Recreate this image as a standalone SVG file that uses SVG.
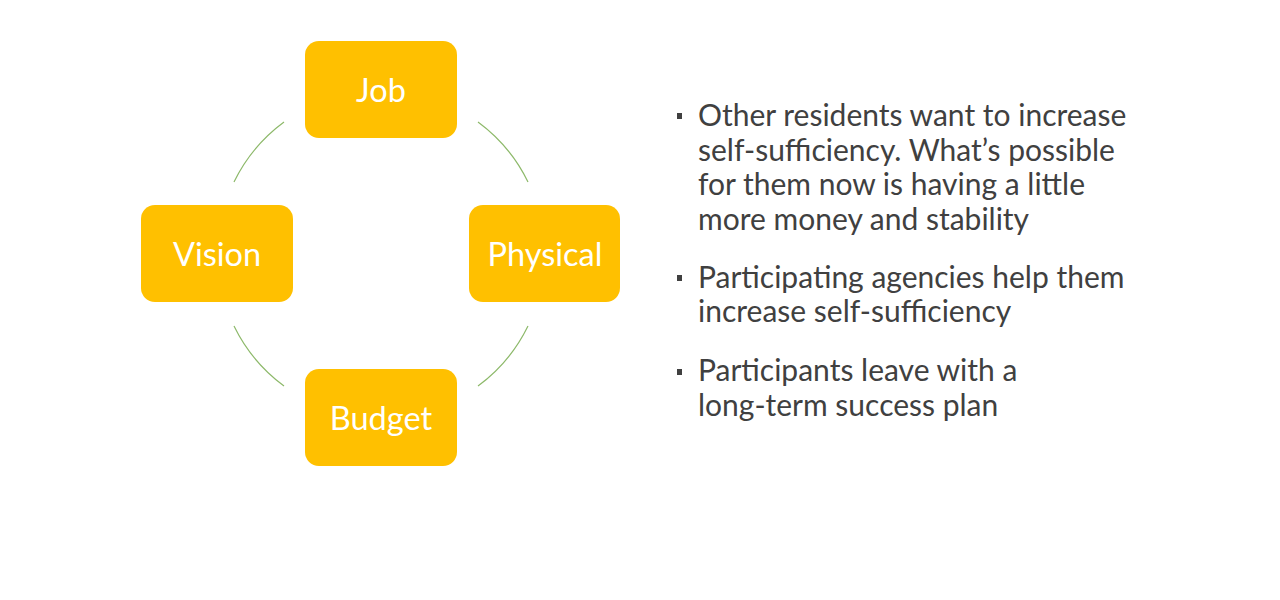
<svg xmlns="http://www.w3.org/2000/svg" width="1280" height="600" viewBox="0 0 1280 600">
<style>
.node rect{fill:#FFC000;}
.node text{fill:#ffffff;font-family:Lato,"Open Sans",sans-serif;font-size:32.5px;text-anchor:middle;}
.arc{fill:none;stroke:#8DB96A;stroke-width:1.2;}
.body{fill:#404040;font-family:Lato,"Open Sans",sans-serif;font-size:30px;}
.bullet{fill:#404040;}
</style>
<rect width="1280" height="600" fill="#ffffff"/>
<g id="connectors">
<path class="arc" d="M284,122 A164,164 0 0 0 234,182"/>
<path class="arc" d="M478,122 A164,164 0 0 1 528,182"/>
<path class="arc" d="M528,326 A164,164 0 0 1 478,386"/>
<path class="arc" d="M234,326 A164,164 0 0 0 284,386"/>
</g>
<g id="node-job" class="node"><rect x="305" y="41" width="152" height="97" rx="14"/><text x="381" y="102">Job</text></g>
<g id="node-vision" class="node"><rect x="141" y="205" width="152" height="97" rx="14"/><text x="217" y="266">Vision</text></g>
<g id="node-physical" class="node"><rect x="469" y="205" width="151" height="97" rx="14"/><text x="545" y="266">Physical</text></g>
<g id="node-budget" class="node"><rect x="305" y="369" width="152" height="97" rx="14"/><text x="381" y="430">Budget</text></g>
<g id="bullets">
<rect class="bullet" x="677" y="113" width="5" height="6"/>
<rect class="bullet" x="677" y="275" width="5" height="6"/>
<rect class="bullet" x="677" y="369" width="5" height="6"/>
<text class="body"><tspan x="698" y="126">Other residents want to increase</tspan><tspan x="698" y="161">self-sufficiency. What’s possible</tspan><tspan x="698" y="195">for them now is having a little</tspan><tspan x="698" y="230">more money and stability</tspan></text>
<text class="body"><tspan x="698" y="288">Participating agencies help them</tspan><tspan x="698" y="322">increase self-sufficiency</tspan></text>
<text class="body"><tspan x="698" y="381">Participants leave with a</tspan><tspan x="698" y="416">long-term success plan</tspan></text>
</g>
</svg>
